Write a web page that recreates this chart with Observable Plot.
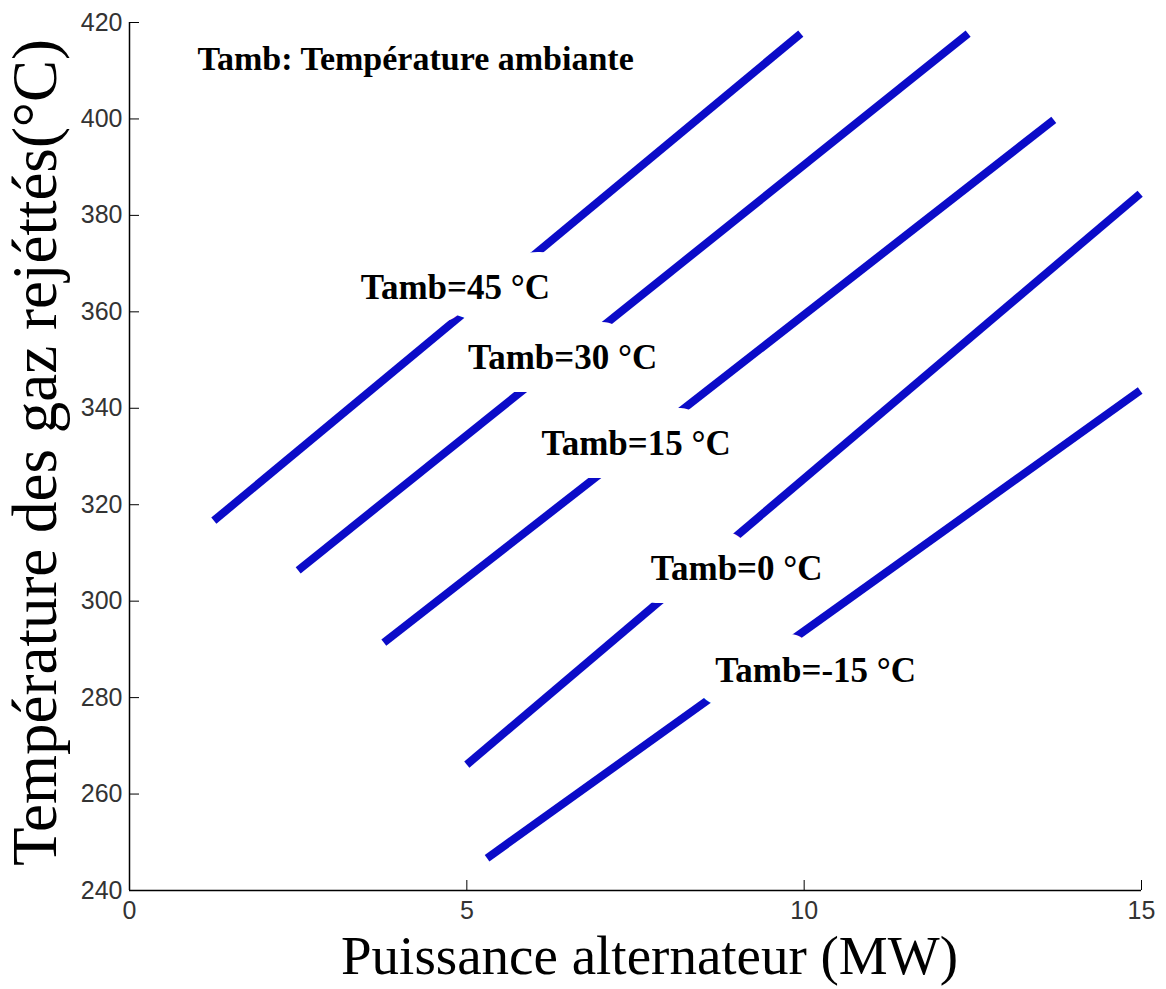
<!DOCTYPE html>
<html>
<head>
<meta charset="utf-8">
<script src="https://cdn.jsdelivr.net/npm/d3@7"></script>
<script src="https://cdn.jsdelivr.net/npm/@observablehq/plot@0.6"></script>
<style>
  html, body { margin: 0; padding: 0; background: #fff; }
</style>
</head>
<body>
<div id="chart"></div>
<script>
// Curves: ambient temperature (°C), start and end points (MW, °C)
const tamb   = [45, 30, 15, 0, -15];
const xStart = [1.25, 2.5, 3.77, 5.0, 5.3];
const yStart = [316.7, 306.4, 291.4, 266.1, 246.7];
const xEnd   = [9.95, 12.43, 13.7, 14.98, 14.98];
const yEnd   = [417.7, 417.7, 399.8, 384.5, 343.7];

// In-plot labels
const labelText = ["Tamb=45 °C", "Tamb=30 °C", "Tamb=15 °C", "Tamb=0 °C", "Tamb=-15 °C"];
const labelX    = [4.83, 6.42, 7.51, 9.0, 10.17];
const labelY    = [365.0, 350.5, 332.7, 306.8, 285.6];

const noteText = ["Tamb: Température ambiante"];
const noteX = [4.24];
const noteY = [412.5];

// Axes
const xTicks = [0, 5, 10, 15];
const yTicks = [240, 260, 280, 300, 320, 340, 360, 380, 400, 420];
const xTitle = "Puissance alternateur (MW)";
const yTitle = "Température des gaz rejéttés(°C)";

const lineRows = tamb.flatMap((t, i) => [
  {tamb: t, x: xStart[i], y: yStart[i]},
  {tamb: t, x: xEnd[i], y: yEnd[i]}
]);
const labelRows = labelText.map((t, i) => ({text: t, x: labelX[i], y: labelY[i]}));
const noteRows = noteText.map((t, i) => ({text: t, x: noteX[i], y: noteY[i]}));

const serif = "'Liberation Serif', 'Times New Roman', serif";
const sans = "'Liberation Sans', Arial, sans-serif";

const chart = Plot.plot({
  width: 1166,
  height: 989,
  marginLeft: 129,
  marginRight: 25,
  marginTop: 22,
  marginBottom: 99,
  x: {domain: [0, 15]},
  y: {domain: [240, 420]},
  style: {background: "#fff", fontFamily: sans},
  marks: [
    Plot.line(lineRows, {x: "x", y: "y", z: "tamb", stroke: "#0b0bc8", strokeWidth: 8, strokeLinecap: "butt"}),
    Plot.text(labelRows, {x: "x", y: "y", text: "text", fontFamily: serif, fontWeight: "bold", fontSize: 35,
      fill: "#000", stroke: "#fff", strokeWidth: 46, strokeLinejoin: "round", paintOrder: "stroke"}),
    Plot.text(noteRows, {x: "x", y: "y", text: "text", fontFamily: serif, fontWeight: "bold", fontSize: 34,
      fill: "#000", stroke: "#fff", strokeWidth: 30, strokeLinejoin: "round", paintOrder: "stroke"}),
    Plot.ruleX([0], {stroke: "#000", strokeWidth: 1.5}),
    Plot.ruleY([240], {stroke: "#000", strokeWidth: 1.5}),
    Plot.axisX(xTicks, {anchor: "bottom", tickSize: -10, tickPadding: 21, fontSize: 25, color: "#333",
      stroke: "#000", label: null, tickFormat: d => String(d)}),
    Plot.axisY(yTicks, {anchor: "left", tickSize: -10, tickPadding: 17, fontSize: 25, color: "#333",
      stroke: "#000", label: null, tickFormat: d => String(d)}),
    Plot.text([xTitle], {frameAnchor: "bottom", text: d => d, dx: 14, dy: 66, fontFamily: serif, fontSize: 55,
      fill: "#000", textAnchor: "middle", lineAnchor: "middle"}),
    Plot.text([yTitle], {frameAnchor: "left", text: d => d, dx: -94, dy: -4, rotate: -90, fontFamily: serif, fontSize: 63,
      fill: "#000", textAnchor: "middle", lineAnchor: "middle"})
  ]
});
document.getElementById("chart").appendChild(chart);
</script>
</body>
</html>
